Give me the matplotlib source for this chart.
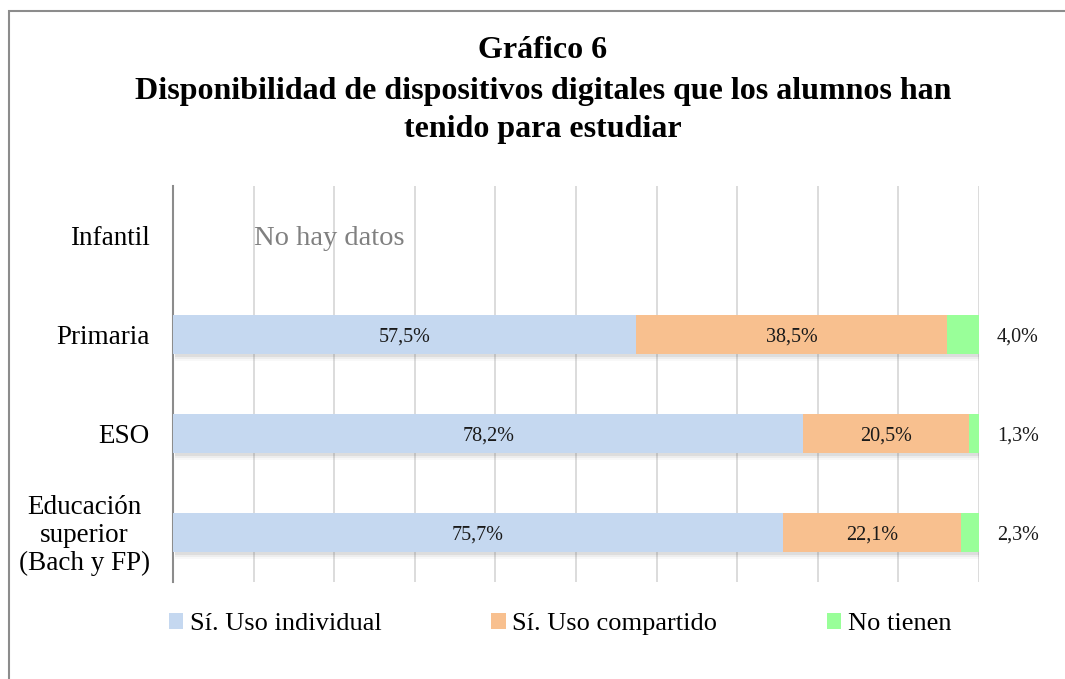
import matplotlib
matplotlib.use("Agg")
import matplotlib.pyplot as plt
from matplotlib.patches import Rectangle
from matplotlib.transforms import blended_transform_factory

plt.rcParams['font.family'] = ['Liberation Serif', 'DejaVu Serif']

categories = ["Infantil", "Primaria", "ESO", "Educación\nsuperior\n(Bach y FP)"]
individual = [None, 57.5, 78.2, 75.7]
compartido = [None, 38.5, 20.5, 22.1]
no_tienen = [None, 4.0, 1.3, 2.3]
series_names = ["Sí. Uso individual", "Sí. Uso compartido", "No tienen"]
colors = ["#C5D8F0", "#F8C08F", "#99FF99"]

fig = plt.figure(figsize=(10.65, 6.79), dpi=100)
W, H = 1065, 679
# outer frame
fig.patches.append(Rectangle((9 / W, -0.05), 1.2, (679 - 11) / H + 0.05, transform=fig.transFigure,
                             fill=False, edgecolor="#8C8C8C", linewidth=1.5, zorder=0))

ax = fig.add_axes([173 / W, 1 - 582 / H, (979 - 173) / W, (582 - 186) / H])

ypos = list(range(len(categories)))
for i, cat in enumerate(categories):
    if individual[i] is None:
        continue
    left = 0
    vals = [individual[i], compartido[i], no_tienen[i]]
    for j, v in enumerate(vals):
        ax.barh(i, v, left=left, height=0.4, color=colors[j], zorder=3,
                label=series_names[j] if i == 1 else None)
        txt = f"{v:.1f}".replace(".", ",") + "%"
        if j < 2:
            ax.text(left + v / 2, i, txt, ha="center", va="center_baseline",
                    fontsize=14.5, color="#1a1a1a", zorder=5)
        else:
            ax.text(104.8, i, txt, ha="center", va="center_baseline",
                    fontsize=14.5, color="#1a1a1a", zorder=5, clip_on=False)
        left += v

# soft shadow under bars
for i in range(len(categories)):
    if individual[i] is None:
        continue
    total = individual[i] + compartido[i] + no_tienen[i]
    for k, a in enumerate([0.10, 0.07, 0.04]):
        ax.add_patch(Rectangle((0.2, i + 0.2), min(total, 100) - 0.2 + 0.25 * k, 0.03 + 0.02 * k,
                               facecolor="#606060", alpha=a, edgecolor="none", zorder=2))

ax.text(10, 0, "No hay datos", ha="left", va="center_baseline", fontsize=20.5, color="#808080", zorder=5)

ax.set_xlim(0, 100)
ax.set_ylim(len(categories) - 0.5, -0.5)
ax.set_xticks(range(0, 101, 10))
ax.set_xticklabels([])
ax.set_yticks(ypos)
ax.set_yticklabels([])
ax.tick_params(axis="both", length=0)
trans = blended_transform_factory(fig.transFigure, ax.transData)
for i, cat in enumerate(categories):
    ax.text(150 / W, i + 0.03, cat, transform=trans, ha="right", va="center", multialignment="center",
            fontsize=19.5, linespacing=1.15)
ax.grid(axis="x", color="#D9D9D9", linewidth=1.3, zorder=0)
ax.set_axisbelow(True)
for s in ["top", "right", "bottom"]:
    ax.spines[s].set_visible(False)
ax.spines["left"].set_color("#8C8C8C")
ax.spines["left"].set_linewidth(1.5)

for y, t in [(50, "Gráfico 6"), (91, "Disponibilidad de dispositivos digitales que los alumnos han"),
             (129, "tenido para estudiar")]:
    fig.text(543 / W, 1 - y / H, t, ha="center", va="center", fontsize=23, fontweight="bold")

handles, labels = ax.get_legend_handles_labels()
leg = fig.legend(handles, labels, loc="center", bbox_to_anchor=(560 / W, 1 - 624 / H), ncol=3,
                 frameon=False, fontsize=19, handlelength=0.55, handleheight=0.55, handletextpad=0.25,
                 columnspacing=4.15)

fig.savefig("out.png", dpi=100)
